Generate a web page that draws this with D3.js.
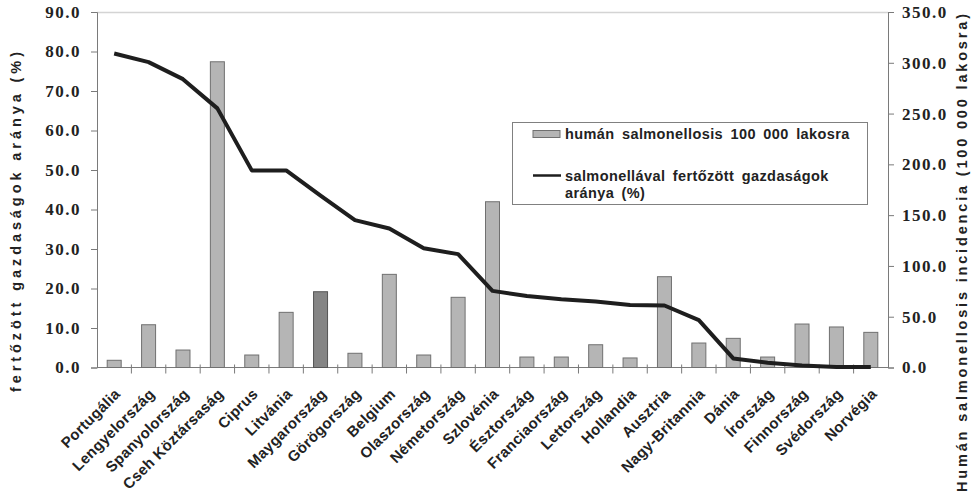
<!DOCTYPE html>
<html>
<head>
<meta charset="utf-8">
<script src="https://cdn.jsdelivr.net/npm/d3@7"></script>
<style>
  body { margin: 0; background: #fff; }
  svg text { font-family: "Liberation Sans", Arial, sans-serif; font-weight: bold; fill: #222; }
  .tick-label { font-family: "Liberation Serif", "Times New Roman", serif !important; font-size: 17px; letter-spacing: 1.5px; }
  .cat { font-size: 15px; letter-spacing: 0.3px; }
  .axis-title { font-size: 14.5px; }
  .legend { font-size: 14.5px; letter-spacing: 0.4px; word-spacing: 3px; }
</style>
</head>
<body>
<svg id="chart" width="979" height="500"></svg>
<script>
const countries = ['Portugália', 'Lengyelország', 'Spanyolország', 'Cseh Köztársaság', 'Ciprus',
  'Litvánia', 'Maygarország', 'Görögország', 'Belgium', 'Olaszország', 'Németország', 'Szlovénia',
  'Észtország', 'Franciaország', 'Lettország', 'Hollandia', 'Ausztria', 'Nagy-Britannia', 'Dánia',
  'Írország', 'Finnország', 'Svédország', 'Norvégia'];

// humán salmonellosis 100 000 lakosra (right axis)
const humanRate = [7.1, 42.1, 17.2, 301.0, 12.3, 54.3, 74.6, 14.0, 91.7, 12.3, 69.1, 163.2,
  10.3, 10.3, 22.4, 9.4, 89.4, 24.1, 28.7, 10.3, 42.8, 39.9, 34.6];

// salmonellával fertőzött gazdaságok aránya (%) (left axis)
const farmRate = [79.5, 77.3, 73.0, 65.6, 49.9, 49.9, 43.5, 37.3, 35.2, 30.2, 28.7, 19.4,
  18.1, 17.3, 16.7, 15.8, 15.7, 12.0, 2.3, 1.2, 0.5, 0.1, 0.1];

const leftTicks = [0, 10, 20, 30, 40, 50, 60, 70, 80, 90];
const rightTicks = [0, 50, 100, 150, 200, 250, 300, 350];
const highlight = 'Maygarország';

const svg = d3.select('#chart');

const plotLeft = 97, plotRight = 888, plotTop = 12, plotBottom = 367.5;

const x = d3.scaleBand()
  .domain(countries)
  .range([plotLeft, plotRight])
  .paddingInner(0)
  .paddingOuter(0);

const yLeft = d3.scaleLinear().domain([0, 90]).range([plotBottom, plotTop]);
const yRight = d3.scaleLinear().domain([0, 350]).range([plotBottom, plotTop]);

const fmt = d3.format('.1f');

// top border of plot area
svg.append('line')
  .attr('x1', plotLeft).attr('x2', plotRight)
  .attr('y1', plotTop + 0.5).attr('y2', plotTop + 0.5)
  .attr('stroke', '#d4d4d4').attr('stroke-width', 1.5);

// left axis
const gl = svg.append('g')
  .attr('transform', `translate(${plotLeft},0)`)
  .call(d3.axisLeft(yLeft).tickValues(leftTicks).tickSize(6).tickPadding(10).tickFormat(fmt));
gl.select('.domain').attr('stroke', '#7a7a7a');
gl.selectAll('.tick line').attr('stroke', '#7a7a7a');
gl.selectAll('.tick text').attr('class', 'tick-label');
gl.attr('font-size', null).attr('font-family', null);

// right axis
const gr = svg.append('g')
  .attr('transform', `translate(${plotRight},0)`)
  .call(d3.axisRight(yRight).tickValues(rightTicks).tickSize(6).tickPadding(8).tickFormat(fmt));
gr.select('.domain').attr('stroke', '#7a7a7a');
gr.selectAll('.tick line').attr('stroke', '#7a7a7a');
gr.selectAll('.tick text').attr('class', 'tick-label');
gr.attr('font-size', null).attr('font-family', null);

// x axis line with crossing ticks at category borders
svg.append('line')
  .attr('x1', plotLeft).attr('x2', plotRight)
  .attr('y1', plotBottom).attr('y2', plotBottom)
  .attr('stroke', '#7a7a7a');

svg.append('g')
  .selectAll('line')
  .data(countries.slice(1))
  .join('line')
  .attr('x1', d => x(d)).attr('x2', d => x(d))
  .attr('y1', plotBottom - 3).attr('y2', plotBottom + 6)
  .attr('stroke', '#7a7a7a');

// bars
const barW = 14;
svg.append('g')
  .selectAll('rect')
  .data(countries)
  .join('rect')
  .attr('x', d => x(d) + x.bandwidth() / 2 - barW / 2)
  .attr('width', barW)
  .attr('y', (d, i) => yRight(humanRate[i]))
  .attr('height', (d, i) => plotBottom - yRight(humanRate[i]))
  .attr('fill', d => d === highlight ? '#858585' : '#b5b5b5')
  .attr('stroke', d => d === highlight ? '#555' : '#707070')
  .attr('stroke-width', 1);

// line
const line = d3.line()
  .x((d, i) => x(countries[i]) + x.bandwidth() / 2)
  .y(d => yLeft(d));

svg.append('path')
  .datum(farmRate)
  .attr('d', line)
  .attr('fill', 'none')
  .attr('stroke', '#1e1e1e')
  .attr('stroke-width', 4)
  .attr('stroke-linejoin', 'round');

// category labels
svg.append('g')
  .selectAll('text')
  .data(countries)
  .join('text')
  .attr('class', 'cat')
  .attr('text-anchor', 'end')
  .attr('transform', d => `translate(${x(d) + x.bandwidth() / 2 + 7}, 395) rotate(-45)`)
  .text(d => d);

// axis titles
svg.append('text')
  .attr('class', 'axis-title')
  .attr('text-anchor', 'middle')
  .attr('transform', 'translate(21, 222) rotate(-90)')
  .attr('textLength', 340)
  .attr('lengthAdjust', 'spacing')
  .text('fertőzött gazdaságok aránya (%)');

svg.append('text')
  .attr('class', 'axis-title')
  .attr('text-anchor', 'middle')
  .attr('transform', 'translate(967, 253) rotate(-90)')
  .attr('textLength', 478)
  .attr('lengthAdjust', 'spacing')
  .text('Humán salmonellosis incidencia (100 000 lakosra)');

// legend
const legend = svg.append('g');
legend.append('rect')
  .attr('x', 512.5).attr('y', 122.5)
  .attr('width', 355).attr('height', 82)
  .attr('fill', '#fff')
  .attr('stroke', '#808080');

legend.append('rect')
  .attr('x', 533).attr('y', 130.5)
  .attr('width', 27).attr('height', 7)
  .attr('fill', '#b5b5b5').attr('stroke', '#707070');

legend.append('text')
  .attr('class', 'legend')
  .attr('x', 565).attr('y', 139)
  .text('humán salmonellosis 100 000 lakosra');

legend.append('line')
  .attr('x1', 533).attr('x2', 561)
  .attr('y1', 175.5).attr('y2', 175.5)
  .attr('stroke', '#1e1e1e').attr('stroke-width', 2.5);

legend.append('text')
  .attr('class', 'legend')
  .attr('x', 565).attr('y', 181)
  .text('salmonellával fertőzött gazdaságok');

legend.append('text')
  .attr('class', 'legend')
  .attr('x', 565).attr('y', 198)
  .text('aránya (%)');
</script>
</body>
</html>
